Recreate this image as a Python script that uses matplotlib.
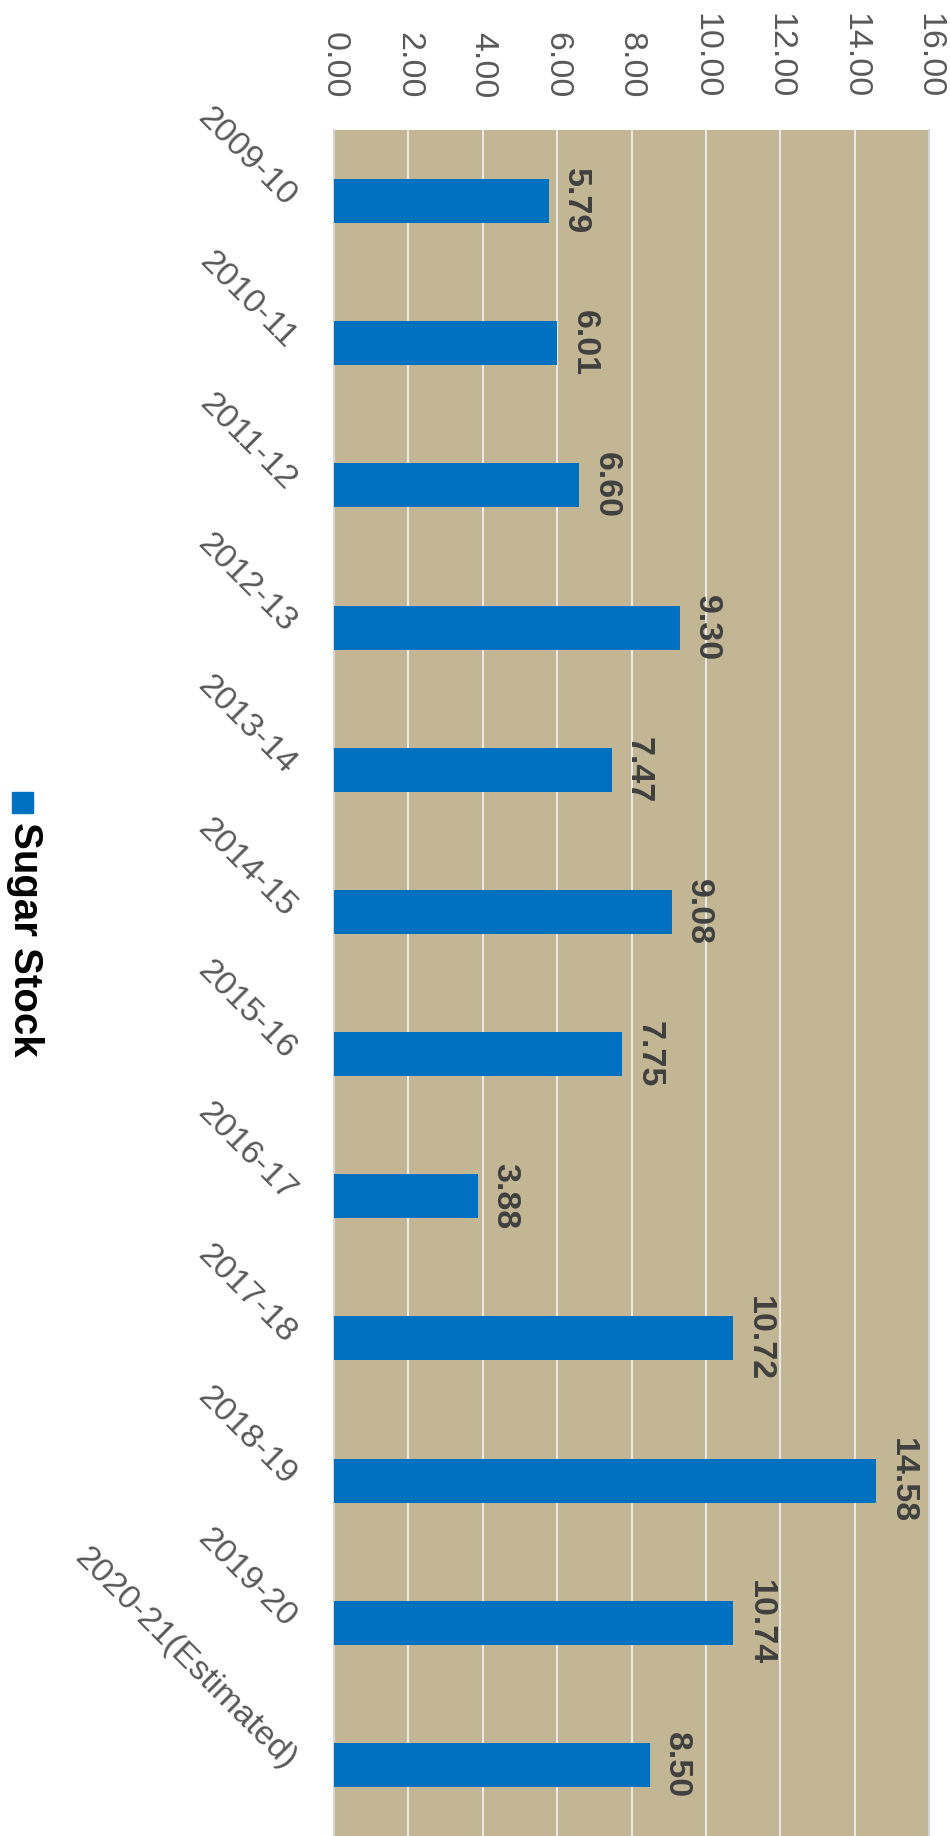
import matplotlib
matplotlib.use("Agg")
import matplotlib.pyplot as plt
from matplotlib.patches import Rectangle

plt.rcParams['font.family'] = ['Liberation Sans', 'DejaVu Sans']

# Data
seasons = ['2009-10', '2010-11', '2011-12', '2012-13', '2013-14', '2014-15',
           '2015-16', '2016-17', '2017-18', '2018-19', '2019-20',
           '2020-21(Estimated)']
sugar_stock = [5.79, 6.01, 6.60, 9.30, 7.47, 9.08, 7.75, 3.88, 10.72, 14.58, 10.74, 8.50]
value_ticks = [0, 2, 4, 6, 8, 10, 12, 14, 16]

BAR_COLOR = '#0070C0'
BG_COLOR = '#c3b695'

W, H = 950, 1836
fig = plt.figure(figsize=(W / 100, H / 100), dpi=100)
ax = fig.add_axes([334 / W, 0, (929 - 334) / W, 1 - 130 / H])
ax.set_facecolor(BG_COLOR)

pos = list(range(len(seasons)))
ax.barh(pos, sugar_stock, height=0.31, color=BAR_COLOR, zorder=3)

# value labels
for p, v in zip(pos, sugar_stock):
    ax.annotate(f"{v:.2f}", xy=(v, p), xytext=(8, 0), textcoords='offset points',
                rotation=-90, ha='left', va='center', fontsize=24.5,
                fontweight='bold', color='#404040', zorder=4)

ax.set_xlim(0, 16)
ax.set_ylim(len(seasons) - 0.5, -0.5)

ax.xaxis.tick_top()
ax.set_xticks(value_ticks)
ax.set_xticklabels([f"{t:.2f}" for t in value_ticks], rotation=-90,
                   fontsize=24.5, color='#595959')
ax.tick_params(axis='x', length=0, pad=23)

ax.set_yticks(pos)
ax.set_yticklabels(seasons, rotation=-45, ha='right', va='center',
                   rotation_mode='anchor', fontsize=24.5, color='#595959')
ax.tick_params(axis='y', length=0, pad=31)

ax.grid(axis='x', color='#ebebeb', linewidth=1.4, zorder=1)
ax.set_axisbelow(True)
for side in ['top', 'bottom']:
    ax.spines[side].set_visible(False)
for side in ['left', 'right']:
    ax.spines[side].set_color('#d4d4d4')
    ax.spines[side].set_linewidth(1.5)

# legend (rotated like the rest of the chart)
fig.patches.append(Rectangle((12 / W, 1 - 813 / H), 21 / W, 21 / H,
                             transform=fig.transFigure, color=BAR_COLOR))
fig.text(6 / W, 1 - 822 / H, 'Sugar Stock', rotation=-90, ha='left', va='top',
         fontsize=29, fontweight='bold', color='black')

fig.savefig('out.png', dpi=100)
